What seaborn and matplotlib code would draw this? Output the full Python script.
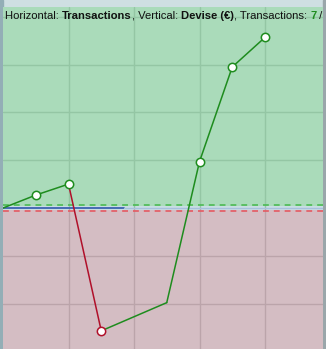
import matplotlib
matplotlib.use("Agg")
import matplotlib.pyplot as plt
import seaborn as sns
import numpy as np
import pandas as pd

# Data (transaction index, value in grid units)
tx_index = [0, 1, 2, 3, 5, 6, 7, 8]
balance = [0.0, 0.27, 0.5, -2.57, -1.98, 0.97, 2.95, 3.57]
marker_shown = [False, True, True, True, False, True, True, True]
title_parts = ["Horizontal: ", "Transactions", ", Vertical: ", "Devise (€)", ", Transactions: ", "7", " / "]

sns.set_theme(style="white")
plt.rcParams['font.family'] = ['Liberation Sans', 'DejaVu Sans']

W, H = 326, 349
fig = plt.figure(figsize=(W / 100, H / 100), dpi=100)
fig.patch.set_facecolor("#cfdfe2")

# background left/right strips
fig.add_artist(plt.Rectangle((0, 0), 3 / W, 1, transform=fig.transFigure, color="#93aeb6", zorder=0))
fig.add_artist(plt.Rectangle((323 / W, 0), 3 / W, 1, transform=fig.transFigure, color="#9aa6aa", zorder=0))

ax = fig.add_axes([3 / W, 0, 320 / W, (H - 7) / H])
px_x = 32.75
px_y = 47.8
ax.set_xlim(0, 320 / px_x)
ax.set_ylim(-(H - 208) / px_y, (208 - 7) / px_y)

ylo, yhi = ax.get_ylim()
ax.axhspan(0, yhi, color="#aadbba", zorder=0, lw=0)
ax.axhspan(ylo, 0, color="#d4bdc3", zorder=0, lw=0)
ax.axhspan(-0.045, 0.045, color="#c8dde3", zorder=0.5, lw=0)

# grid lines
for gx in [2, 4, 6, 8]:
    ax.plot([gx, gx], [0, yhi], color="#94c6a4", lw=1, zorder=1)
    ax.plot([gx, gx], [ylo, 0], color="#bba4aa", lw=1, zorder=1)
for gy in [1, 2, 3, 4]:
    ax.axhline(gy, color="#94c6a4", lw=1, zorder=1)
for gy in [-1, -2]:
    ax.axhline(gy, color="#bba4aa", lw=1, zorder=1)

ax.plot([0, 3.7], [0, 0], color="#3c62b0", lw=1.3, zorder=1.5)
ax.plot([3.7, 10], [0, 0], color="#a7c0dc", lw=1.0, zorder=1.5)
ax.axhline(0.06, color="#4dba55", lw=1.2, ls=(0, (3.5, 3)), zorder=2)
ax.axhline(-0.06, color="#e45a62", lw=1.2, ls=(0, (3.5, 3)), zorder=2)

df = pd.DataFrame({"x": tx_index, "y": balance, "m": marker_shown})
# segments colored by direction
for i in range(len(df) - 1):
    x0, y0 = df.x[i], df.y[i]
    x1, y1 = df.x[i + 1], df.y[i + 1]
    col = "#1e8c1e" if y1 >= y0 else "#b0102a"
    seg = pd.DataFrame({"x": [x0, x1], "y": [y0, y1]})
    sns.lineplot(data=seg, x="x", y="y", ax=ax, color=col, lw=1.1, zorder=3, legend=False)

for i in range(len(df)):
    if not df.m[i]:
        continue
    col = "#1e8c1e"
    if i > 0 and df.y[i] < df.y[i - 1]:
        col = "#b0102a"
    ax.plot(df.x[i], df.y[i], marker="o", ms=6, mfc="white", mec=col, mew=1.1, zorder=4)

ax.set_xticks([])
ax.set_yticks([])
ax.set_xlabel("")
ax.set_ylabel("")
for s in ax.spines.values():
    s.set_visible(False)

# title text with mixed weights, chained
fs = 8.1
prev = None
for part in title_parts:
    weight = "bold" if part in ("Transactions", "Devise (€)", "7") else "normal"
    color = "#1e8c1e" if part == "7" else "#111111"
    if prev is None:
        prev = fig.text(5 / W, 1 - 19 / H, part, fontsize=fs, fontweight=weight, color=color, zorder=10)
    else:
        prev = ax.annotate(part, xy=(1, 0), xycoords=prev, xytext=(0, 0), textcoords="offset points",
                           va="bottom", ha="left", fontsize=fs, fontweight=weight, color=color,
                           annotation_clip=False, zorder=10)

fig.text(4 / W, -7 / H, "0,5 €", fontsize=fs, color="#111111", fontweight="bold")

fig.savefig("out.png", dpi=100)
